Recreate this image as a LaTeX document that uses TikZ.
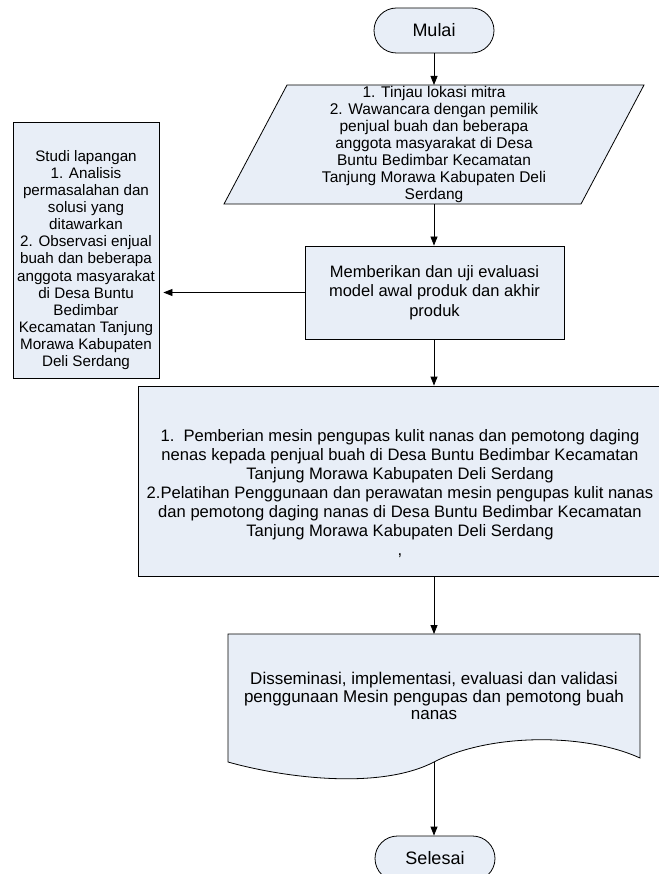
\documentclass[tikz,border=0pt]{standalone}
\usepackage{fontspec}
\setmainfont{Liberation Sans}
\usetikzlibrary{arrows.meta}
\definecolor{boxfill}{HTML}{E8EEF7}
\tikzset{
  shapebox/.style={draw=black, fill=boxfill, line width=0.8pt, inner sep=0pt},
  term/.style={shapebox, rounded corners=22.5pt, minimum width=120pt, minimum height=45pt, font=\fontsize{18}{20}\selectfont},
  txt/.style={align=center, inner sep=0pt},
  flow/.style={draw=black, line width=0.8pt, -{Triangle[width=7pt,length=9pt]}},
}
\begin{document}
\begin{tikzpicture}[x=1pt,y=-1pt]
\useasboundingbox (0,0) rectangle (658,874);

% start
\node[term] (mulai) at (434,30.5) {Mulai};

% parallelogram (input)
\filldraw[shapebox] (287,85) -- (644,85) -- (581,204) -- (224,204) -- cycle;
\coordinate (paraN) at (434,85);
\coordinate (paraS) at (434,204);
\node[txt, font=\fontsize{15.5}{17}\selectfont] (para) at (434,144.5) {1. Tinjau lokasi mitra\\2. Wawancara dengan pemilik\\penjual buah dan beberapa\\anggota masyarakat di Desa\\Buntu Bedimbar Kecamatan\\Tanjung Morawa Kabupaten Deli\\Serdang};

% left box
\node[shapebox, minimum width=146pt, minimum height=256pt] (left) at (86,250) {};
\node[txt, font=\fontsize{15.2}{17.1}\selectfont] (lefttext) at (86,260) {Studi lapangan\\1. Analisis\\permasalahan dan\\solusi yang\\ditawarkan\\2. Observasi enjual\\buah dan beberapa\\anggota masyarakat\\di Desa Buntu\\Bedimbar\\Kecamatan Tanjung\\Morawa Kabupaten\\Deli Serdang};

% Memberikan
\node[shapebox, minimum width=259pt, minimum height=93pt, align=center, font=\fontsize{16.5}{19.5}\selectfont] (memb) at (434.5,292.5) {Memberikan dan uji evaluasi\\model awal produk dan akhir\\produk};

% big box
\node[shapebox, minimum width=524pt, minimum height=190pt] (big) at (400,481) {};
\node[txt, font=\fontsize{16.6}{19}\selectfont] (bigtext) at (400,494) {1.\ \ Pemberian mesin pengupas kulit nanas dan pemotong daging\\nenas kepada penjual buah di Desa Buntu Bedimbar Kecamatan\\Tanjung Morawa Kabupaten Deli Serdang\\2.Pelatihan Penggunaan dan perawatan mesin pengupas kulit nanas\\dan pemotong daging nanas di Desa Buntu Bedimbar Kecamatan\\Tanjung Morawa Kabupaten Deli Serdang\\,};

% document shape
\filldraw[shapebox] (228,634) -- (640,634) -- (640,758)
  .. controls (585,733) and (490,733) .. (434,762)
  .. controls (380,790) and (285,778) .. (228,762) -- cycle;
\coordinate (dissN) at (434,634);
\coordinate (dissS) at (434,762);
\node[txt, font=\fontsize{17}{17.8}\selectfont] (diss) at (434,696) {Disseminasi, implementasi, evaluasi dan validasi\\penggunaan Mesin pengupas dan pemotong buah\\nanas};

% end
\node[term] (selesai) at (435,858.5) {Selesai};

% connectors
\draw[flow] (mulai.south) -- (paraN);
\draw[flow] (paraS) -- (memb.north -| paraS);
\draw[flow] (memb.west) -- ([xshift=4pt]memb.west -| left.east);
\draw[flow] (memb.south -| paraS) -- (big.north -| paraS);
\draw[flow] (big.south -| paraS) -- (dissN);
\draw[flow] (dissS) -- (selesai.north -| dissS);
\end{tikzpicture}
\end{document}
